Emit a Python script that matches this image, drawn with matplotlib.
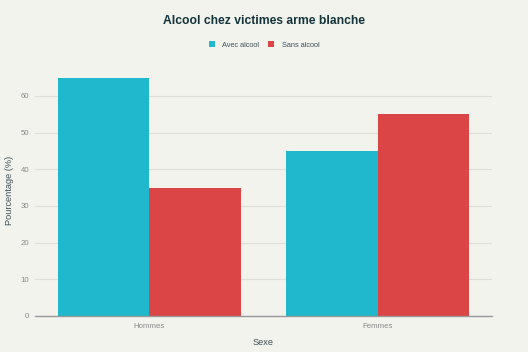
import matplotlib.pyplot as plt
import numpy as np

# data
categories = ['Hommes', 'Femmes']
avec_alcool = [65, 45]
sans_alcool = [35, 55]
series_names = ['Avec alcool', 'Sans alcool']

bg = '#F3F3EE'
plt.rcParams['font.family'] = ['Liberation Sans', 'DejaVu Sans']

fig = plt.figure(figsize=(5.28, 3.52), dpi=100, facecolor=bg)
ax = fig.add_axes([35 / 528, 36 / 352, 457 / 528, 251 / 352], facecolor=bg)

x = np.arange(len(categories))
w = 0.4
ax.bar(x - w / 2, avec_alcool, w, color='#1FB8CD', label=series_names[0], zorder=3)
ax.bar(x + w / 2, sans_alcool, w, color='#DB4545', label=series_names[1], zorder=3)

ax.set_xlim(-0.5, 1.5)
ax.set_ylim(0, 68.42)
ax.set_yticks(range(0, 61, 10))
ax.set_xticks(x)
ax.set_xticklabels(categories)
ax.grid(axis='y', color='#DEDEDA', lw=0.8, zorder=0)
for s in ['top', 'right', 'left']:
    ax.spines[s].set_visible(False)
ax.spines['bottom'].set_color('#999999')
ax.spines['bottom'].set_linewidth(1)
ax.spines['bottom'].set_zorder(4)
ax.tick_params(axis='y', length=0, labelsize=5.6, colors='#888888', pad=4)
ax.tick_params(axis='x', length=0, labelsize=5.6, colors='#888888', pad=5)

ax.set_xlabel('Sexe', fontsize=6.6, color='#3D4F55')
ax.set_ylabel('Pourcentage (%)', fontsize=6.6, color='#3D4F55')
ax.xaxis.set_label_coords(0.5, -22 / 251)
ax.yaxis.set_label_coords(-21 / 457, 0.5)

fig.text(0.5, 1 - 21 / 352, 'Alcool chez victimes arme blanche', ha='center', va='center',
         fontsize=8.7, fontweight='bold', color='#13343B')
fig.legend(loc='center', bbox_to_anchor=(0.5, 1 - 45 / 352), ncol=2, frameon=False,
           fontsize=5.3, handlelength=0.8, handleheight=0.8, columnspacing=1.3,
           handletextpad=1.0, labelcolor='#3D4F55')

fig.savefig('out.png', dpi=100, facecolor=bg)
